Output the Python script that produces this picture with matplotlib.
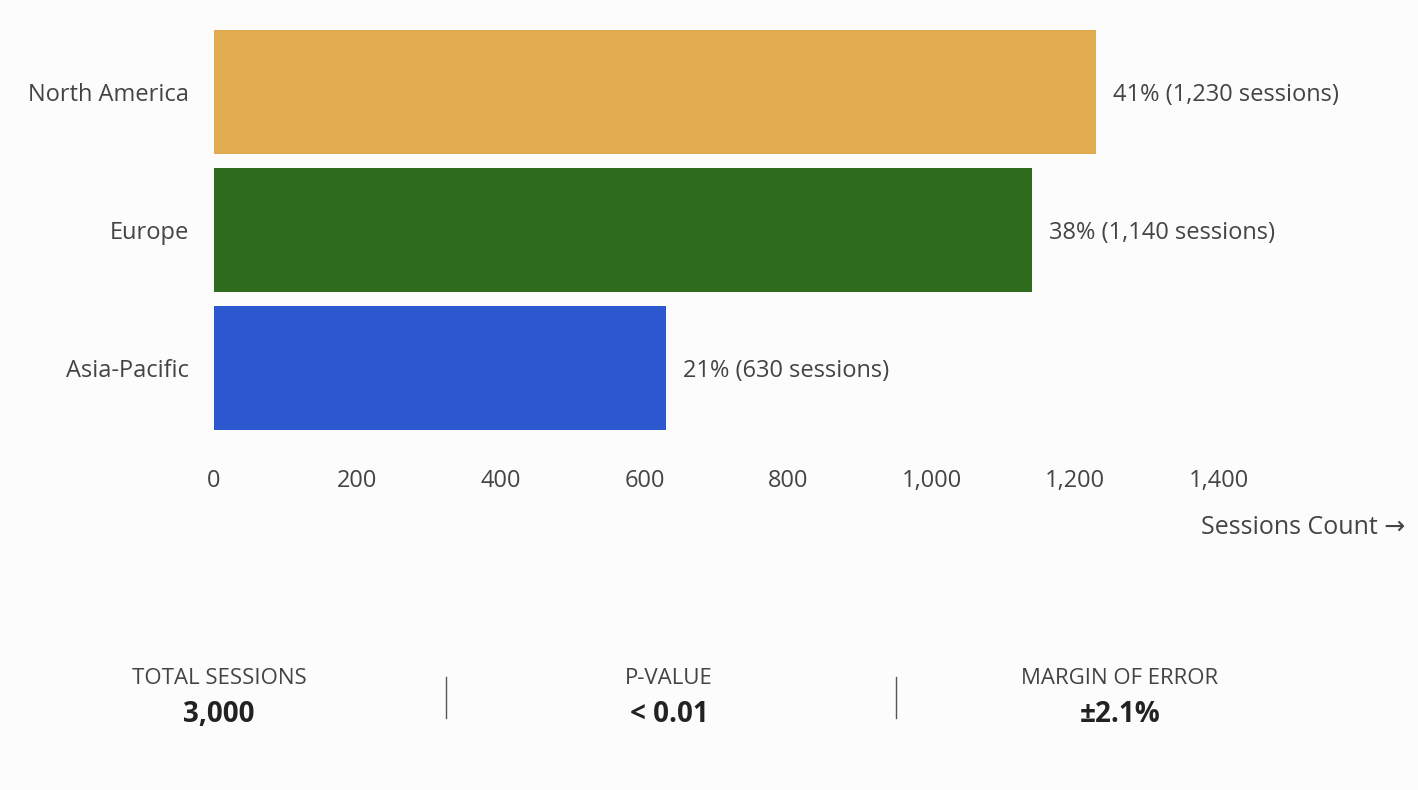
import matplotlib
matplotlib.use("Agg")
import matplotlib.pyplot as plt

# Data
regions = ["North America", "Europe", "Asia-Pacific"]
sessions = [1230, 1140, 630]
shares = [41, 38, 21]
colors = ["#E1AC50", "#2F6B1D", "#2B57CF"]
ticks = [0, 200, 400, 600, 800, 1000, 1200, 1400]

stat_names = ["TOTAL SESSIONS", "P-VALUE", "MARGIN OF ERROR"]
stat_values = ["3,000", "< 0.01", "±2.1%"]

plt.rcParams["font.family"] = ["Open Sans", "DejaVu Sans"]
text_col = "#444444"
bg = "#FCFCFC"

W, H = 1418, 790
fig = plt.figure(figsize=(W / 100, H / 100), dpi=100, facecolor=bg)
# axes in pixel coords: left 214, right 1405, top 23, bottom 437
ax = fig.add_axes([214 / W, 1 - 437 / H, (1405 - 214) / W, (437 - 23) / H])
ax.set_facecolor(bg)

y = list(range(len(regions)))
ax.barh(y, sessions, height=0.9, color=colors)
ax.set_ylim(len(regions) - 0.5, -0.5)
ax.set_xlim(0, 1660)

for yi, v, s in zip(y, sessions, shares):
    ax.annotate(f"{s}% ({v:,} sessions)", (v, yi), xytext=(12, 0),
                textcoords="offset points", va="center_baseline", ha="left",
                fontsize=17, color=text_col)

ax.set_yticks(y)
ax.set_yticklabels(regions)
ax.set_xticks(ticks)
ax.set_xticklabels([f"{t:,}" for t in ticks])
ax.tick_params(axis="both", length=0, labelsize=17, labelcolor=text_col)
ax.tick_params(axis="x", pad=23)
ax.tick_params(axis="y", pad=18)
for sp in ax.spines.values():
    sp.set_visible(False)

fig.text(1405 / W, 1 - 528 / H, "Sessions Count \u2192", ha="right", va="center",
         fontsize=18, color=text_col)

# summary stats along the bottom
centers = [219, 669, 1120]
for cx, name, val in zip(centers, stat_names, stat_values):
    fig.text(cx / W, 1 - 678 / H, name, ha="center", va="center",
             fontsize=16, fontweight="medium", color=text_col)
    fig.text(cx / W, 1 - 714 / H, val, ha="center", va="center",
             fontsize=20, fontweight="bold", color="#222222")
for dx in [446, 896]:
    fig.add_artist(plt.Line2D([dx / W, dx / W], [1 - 677 / H, 1 - 718 / H],
                              color="#555555", lw=1))

fig.savefig("out.png", dpi=100, facecolor=bg)
